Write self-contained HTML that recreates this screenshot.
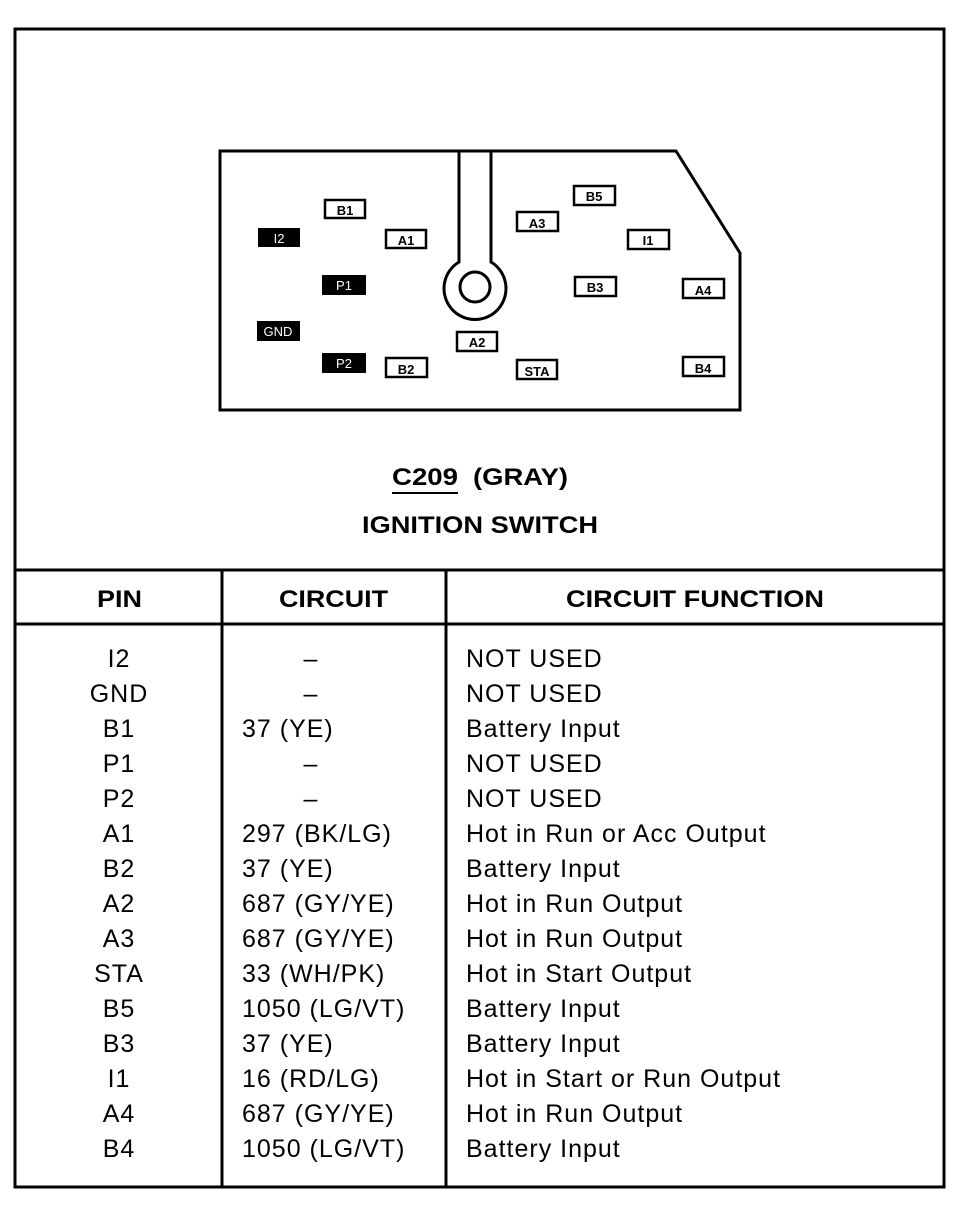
<!DOCTYPE html>
<html><head><style>html,body{margin:0;padding:0;background:#fff}</style></head>
<body>
<svg width="978" height="1216" xmlns="http://www.w3.org/2000/svg" font-family="Liberation Sans, Arial, sans-serif">
<rect x="0" y="0" width="978" height="1216" fill="#fff"/>
<rect x="15" y="29" width="929" height="1158" fill="none" stroke="#000" stroke-width="3"/>
<line x1="15" y1="570" x2="944" y2="570" stroke="#000" stroke-width="3"/>
<line x1="15" y1="624" x2="944" y2="624" stroke="#000" stroke-width="3"/>
<line x1="222" y1="570" x2="222" y2="1187" stroke="#000" stroke-width="3"/>
<line x1="446" y1="570" x2="446" y2="1187" stroke="#000" stroke-width="3"/>
<path d="M220 151 L676 151 L740 253 L740 410 L220 410 Z" fill="none" stroke="#000" stroke-width="3"/>
<path d="M459 151 L459 262 A31 31 0 1 0 491 262 L491 151" fill="none" stroke="#000" stroke-width="3"/>
<circle cx="475" cy="287" r="15" fill="none" stroke="#000" stroke-width="3"/>
<g font-size="13" font-weight="bold" text-anchor="middle">
<rect x="258" y="228" width="42" height="19" fill="#000"/><text x="279" y="243" fill="#fff" font-weight="normal">I2</text>
<rect x="322" y="275" width="44" height="20" fill="#000"/><text x="344" y="290" fill="#fff" font-weight="normal">P1</text>
<rect x="257" y="321" width="43" height="20" fill="#000"/><text x="278" y="336" fill="#fff" font-weight="normal">GND</text>
<rect x="322" y="353" width="44" height="20" fill="#000"/><text x="344" y="368" fill="#fff" font-weight="normal">P2</text>
<g fill="#fff" stroke="#000" stroke-width="2.5">
<rect x="325" y="200" width="40" height="18"/>
<rect x="386" y="230" width="40" height="18"/>
<rect x="386" y="358" width="41" height="19"/>
<rect x="457" y="332" width="40" height="19"/>
<rect x="517" y="360" width="40" height="19"/>
<rect x="517" y="212" width="41" height="19"/>
<rect x="574" y="186" width="41" height="19"/>
<rect x="628" y="230" width="41" height="19"/>
<rect x="575" y="277" width="41" height="19"/>
<rect x="683" y="279" width="41" height="19"/>
<rect x="683" y="357" width="41" height="19"/>
</g>
<text x="345" y="215">B1</text>
<text x="406" y="245">A1</text>
<text x="406" y="374">B2</text>
<text x="477" y="347">A2</text>
<text x="537" y="376">STA</text>
<text x="537" y="228">A3</text>
<text x="594" y="201">B5</text>
<text x="648" y="245">I1</text>
<text x="595" y="292">B3</text>
<text x="703" y="295">A4</text>
<text x="703" y="373">B4</text>
</g>
<g font-weight="bold" font-size="24">
<text x="392" y="485" textLength="66" lengthAdjust="spacingAndGlyphs">C209</text>
<text x="473" y="485" textLength="95" lengthAdjust="spacingAndGlyphs">(GRAY)</text>
<line x1="392" y1="493" x2="458" y2="493" stroke="#000" stroke-width="2"/>
<text x="362" y="533" textLength="236" lengthAdjust="spacingAndGlyphs">IGNITION SWITCH</text>
<text x="97" y="607" textLength="45" lengthAdjust="spacingAndGlyphs">PIN</text>
<text x="279" y="607" textLength="109" lengthAdjust="spacingAndGlyphs">CIRCUIT</text>
<text x="566" y="607" textLength="258" lengthAdjust="spacingAndGlyphs">CIRCUIT FUNCTION</text>
</g>
<g font-size="25" letter-spacing="1">
<g text-anchor="middle">
<text x="119" y="667">I2</text><text x="119" y="702">GND</text><text x="119" y="737">B1</text><text x="119" y="772">P1</text><text x="119" y="807">P2</text><text x="119" y="842">A1</text><text x="119" y="877">B2</text><text x="119" y="912">A2</text><text x="119" y="947">A3</text><text x="119" y="982">STA</text><text x="119" y="1017">B5</text><text x="119" y="1052">B3</text><text x="119" y="1087">I1</text><text x="119" y="1122">A4</text><text x="119" y="1157">B4</text>
<text x="311" y="667">–</text><text x="311" y="702">–</text><text x="311" y="772">–</text><text x="311" y="807">–</text>
</g>
<text x="242" y="737">37 (YE)</text>
<text x="242" y="842">297 (BK/LG)</text>
<text x="242" y="877">37 (YE)</text>
<text x="242" y="912">687 (GY/YE)</text>
<text x="242" y="947">687 (GY/YE)</text>
<text x="242" y="982">33 (WH/PK)</text>
<text x="242" y="1017">1050 (LG/VT)</text>
<text x="242" y="1052">37 (YE)</text>
<text x="242" y="1087">16 (RD/LG)</text>
<text x="242" y="1122">687 (GY/YE)</text>
<text x="242" y="1157">1050 (LG/VT)</text>
<text x="466" y="667">NOT USED</text>
<text x="466" y="702">NOT USED</text>
<text x="466" y="737">Battery Input</text>
<text x="466" y="772">NOT USED</text>
<text x="466" y="807">NOT USED</text>
<text x="466" y="842">Hot in Run or Acc Output</text>
<text x="466" y="877">Battery Input</text>
<text x="466" y="912">Hot in Run Output</text>
<text x="466" y="947">Hot in Run Output</text>
<text x="466" y="982">Hot in Start Output</text>
<text x="466" y="1017">Battery Input</text>
<text x="466" y="1052">Battery Input</text>
<text x="466" y="1087">Hot in Start or Run Output</text>
<text x="466" y="1122">Hot in Run Output</text>
<text x="466" y="1157">Battery Input</text>
</g>
</svg>
</body></html>
